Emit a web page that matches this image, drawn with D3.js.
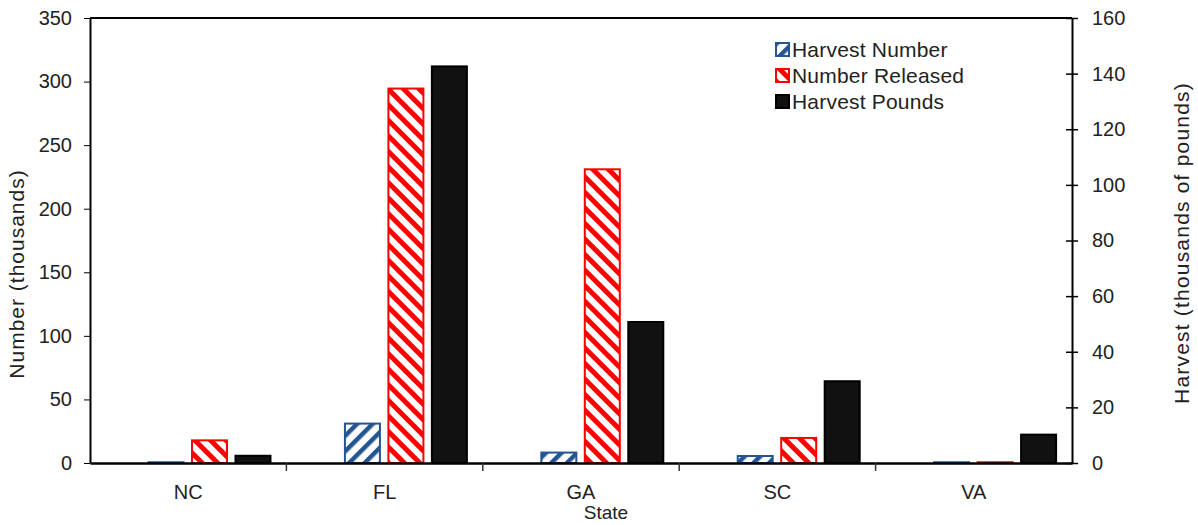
<!DOCTYPE html>
<html>
<head>
<meta charset="utf-8">
<script src="https://cdn.jsdelivr.net/npm/d3@7"></script>
<style>
  html, body { margin: 0; padding: 0; background: #fff; }
  svg { display: block; font-family: "Liberation Sans", Arial, sans-serif; }
</style>
</head>
<body>
<svg id="chart" width="1198" height="525"></svg>
<script>
const categories = ["NC", "FL", "GA", "SC", "VA"];
const harvestNumber = [0.6, 31, 8.2, 5.5, 0.6];      // left axis, thousands
const numberReleased = [17.8, 294.5, 231, 19.7, 0.6]; // left axis, thousands
const harvestPounds = [2.6, 142.6, 50.7, 29.4, 10.2]; // right axis, thousands of pounds
const leftTicks = [0, 50, 100, 150, 200, 250, 300, 350];
const rightTicks = [0, 20, 40, 60, 80, 100, 120, 140, 160];
const seriesNames = ["Harvest Number", "Number Released", "Harvest Pounds"];

const svg = d3.select("#chart");
const plot = { left: 90, right: 1072, top: 18, bottom: 463 };

const defs = svg.append("defs");
function stripe(id, color, angle, size, thick) {
  const p = defs.append("pattern")
    .attr("id", id).attr("patternUnits", "userSpaceOnUse")
    .attr("width", size).attr("height", size)
    .attr("patternTransform", `rotate(${angle})`);
  p.append("rect").attr("width", size).attr("height", size).attr("fill", "#fff");
  p.append("rect").attr("width", thick).attr("height", size).attr("fill", color);
}
stripe("patBlue", "#245591", 45, 11, 4.5);
stripe("patRed", "#ff0000", -45, 11, 5);

const x = d3.scaleBand().domain(categories).range([plot.left, plot.right]).padding(0);
const bw = x.bandwidth();
const inner = d3.scaleBand().domain(seriesNames)
  .range([bw * 0.298, bw * 0.919]).paddingInner(0.195).paddingOuter(0);
const yL = d3.scaleLinear().domain([0, 350]).range([plot.bottom, plot.top]);
const yR = d3.scaleLinear().domain([0, 160]).range([plot.bottom, plot.top]);

const styles = [
  { fill: "url(#patBlue)", stroke: "#245591", data: harvestNumber, y: yL },
  { fill: "url(#patRed)", stroke: "#ff0000", data: numberReleased, y: yL },
  { fill: "#111111", stroke: "#000000", data: harvestPounds, y: yR }
];

styles.forEach((s, si) => {
  svg.append("g").selectAll("rect").data(categories).join("rect")
    .attr("x", c => x(c) + inner(seriesNames[si]))
    .attr("width", inner.bandwidth())
    .attr("y", (c, i) => s.y(s.data[i]))
    .attr("height", (c, i) => plot.bottom - s.y(s.data[i]))
    .attr("fill", s.fill)
    .attr("stroke", s.stroke)
    .attr("stroke-width", 2);
});

// frame top line
svg.append("line").attr("x1", plot.left).attr("x2", plot.right)
  .attr("y1", plot.top).attr("y2", plot.top)
  .attr("stroke", "#000").attr("stroke-width", 2);

const FONT = "Liberation Sans, Arial, sans-serif";

// left axis
const gL = svg.append("g").attr("transform", `translate(${plot.left},0)`)
  .call(d3.axisLeft(yL).tickValues(leftTicks).tickSize(6).tickPadding(12).tickSizeOuter(0));
gL.select(".domain").attr("stroke-width", 2);
gL.selectAll("text").attr("font-size", 20).attr("fill", "#222").attr("font-family", FONT);

// right axis with crossing ticks
const gR = svg.append("g").attr("transform", `translate(${plot.right},0)`)
  .call(d3.axisRight(yR).tickValues(rightTicks).tickSize(6).tickPadding(14).tickSizeOuter(0));
gR.select(".domain").attr("stroke-width", 2);
gR.selectAll(".tick line").attr("x1", -6).attr("x2", 6).attr("stroke-width", 1.5);
gR.selectAll("text").attr("font-size", 20).attr("fill", "#222").attr("font-family", FONT);

// bottom axis
const gB = svg.append("g").attr("transform", `translate(0,${plot.bottom})`)
  .call(d3.axisBottom(x).tickSize(0).tickPadding(22));
gB.select(".domain").attr("stroke-width", 2.5);
gB.selectAll("text").attr("font-size", 20).attr("fill", "#222").attr("font-family", FONT);
gB.append("g").selectAll("line").data(categories.slice(1)).join("line")
  .attr("x1", c => x(c)).attr("x2", c => x(c))
  .attr("y1", 0).attr("y2", 8).attr("stroke", "#333").attr("stroke-width", 1.5);

// axis titles
svg.append("text").attr("transform", "translate(24,274) rotate(-90)")
  .attr("text-anchor", "middle").attr("font-size", 21).attr("letter-spacing", 1)
  .attr("fill", "#222").text("Number  (thousands)");
svg.append("text").attr("transform", "translate(1189,243) rotate(-90)")
  .attr("text-anchor", "middle").attr("font-size", 21).attr("letter-spacing", 1.2)
  .attr("fill", "#222").text("Harvest  (thousands of pounds)");
svg.append("text").attr("x", 606).attr("y", 519)
  .attr("text-anchor", "middle").attr("font-size", 19).attr("fill", "#222")
  .text("State");

// legend
const legend = svg.append("g").attr("transform", "translate(775,42)");
const lg = legend.selectAll("g").data(seriesNames).join("g")
  .attr("transform", (d, i) => `translate(0,${i * 26})`);
lg.append("rect").attr("x", 1).attr("y", 1).attr("width", 13).attr("height", 13)
  .attr("fill", (d, i) => styles[i].fill).attr("stroke", (d, i) => styles[i].stroke).attr("stroke-width", 2);
lg.append("text").attr("x", 17).attr("y", 15).attr("font-size", 21).attr("letter-spacing", 0.2)
  .attr("fill", "#222").text(d => d);
</script>
</body>
</html>
